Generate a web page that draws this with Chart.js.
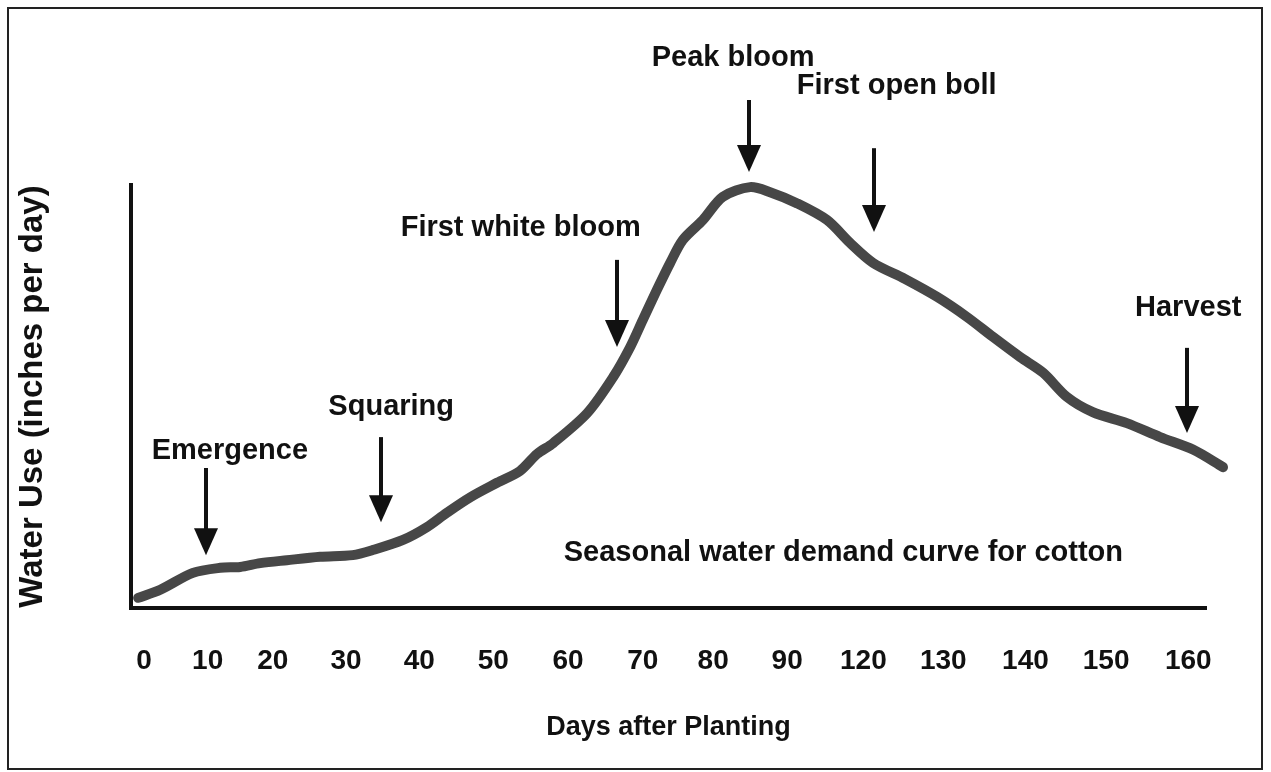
<!DOCTYPE html>
<html>
<head>
<meta charset="utf-8">
<script src="https://cdn.jsdelivr.net/npm/chart.js@4.4.1/dist/chart.umd.min.js"></script>
<style>
  html, body { margin: 0; padding: 0; background: #ffffff; }
  #wrap { position: relative; width: 1271px; height: 772px; }
  canvas { display: block; }
</style>
</head>
<body>
<div id="wrap"><canvas id="c" width="1271" height="772"></canvas></div>
<script>
// ---- Data ----
// x values are in axis units (tick "0" = 0, tick "10" ≈ 8.6 ... tick "160" ≈ 141.1)
const curveX = [-0.8, 2.2, 6.6, 10.3, 13.0, 15.7, 19.3, 23.8, 28.2, 30.9, 35.0, 38.2, 40.9, 44.1, 47.7,
  50.8, 53.1, 55.3, 59.9, 63.4, 65.7, 67.4, 69.3, 71.1, 72.8, 75.5, 78.2, 81.9, 84.6, 88.2, 92.3, 95.4,
  98.5, 102.8, 107.2, 111.2, 114.7, 118.4, 121.5, 124.7, 128.2, 132.8, 137.3, 141.8, 145.8];
// relative water use (axis has no numeric labels; 0 = x-axis, 100 = top of y-axis)
const curveY = [2.4, 4.3, 8.3, 9.5, 9.7, 10.6, 11.3, 12.1, 12.5, 13.7, 16.1, 19.1, 22.5, 26.2, 29.6,
  32.4, 36.4, 39.0, 46.1, 54.6, 61.7, 68.1, 75.2, 81.6, 87.0, 91.7, 97.2, 99.5, 98.3, 95.7, 91.7, 86.3,
  81.6, 77.8, 73.5, 68.8, 64.1, 59.3, 55.6, 49.9, 46.3, 43.7, 40.4, 37.4, 33.3];

const xTickLabels = ['0', '10', '20', '30', '40', '50', '60', '70', '80', '90', '120', '130', '140', '150', '160'];
const xTickPos = [0, 8.6, 17.4, 27.3, 37.2, 47.2, 57.3, 67.4, 76.9, 86.9, 97.2, 108.0, 119.1, 130.0, 141.1];

const stageNames = ['Emergence', 'Squaring', 'First white bloom', 'Peak bloom', 'First open boll', 'Harvest'];
const stageLabelX = [11.6, 33.4, 50.9, 79.6, 101.7, 141.1];
const stageLabelY = [37.1, 47.5, 89.8, 130.0, 123.4, 70.9];
const stageArrowX = [8.4, 32.0, 63.9, 81.8, 98.6, 140.9];
const stageArrowTop = [33.1, 40.4, 82.3, 120.1, 108.7, 61.5];
const stageArrowTip = [12.5, 20.3, 61.7, 103.1, 88.9, 41.4];

const captionText = 'Seasonal water demand curve for cotton';
const captionX = 94.5;
const captionY = 13.0;

const xTitle = 'Days after Planting';
const yTitle = 'Water Use (inches per day)';

// ---- Styling ----
const FONT = '"Liberation Sans", Arial, Helvetica, sans-serif';
const INK = '#111111';

const points = curveX.map((x, i) => ({ x: x, y: curveY[i] }));

const annotationPlugin = {
  id: 'stageAnnotations',
  beforeDraw(chart) {
    const ctx = chart.ctx;
    ctx.save();
    ctx.fillStyle = '#ffffff';
    ctx.fillRect(0, 0, chart.width, chart.height);
    ctx.restore();
  },
  afterDraw(chart) {
    const ctx = chart.ctx;
    const xs = chart.scales.x, ys = chart.scales.y;
    ctx.save();
    // outer frame
    ctx.strokeStyle = '#222222';
    ctx.lineWidth = 2;
    ctx.strokeRect(8, 8, 1254, 761);

    ctx.fillStyle = INK;
    ctx.strokeStyle = INK;
    ctx.textAlign = 'center';
    ctx.textBaseline = 'middle';
    ctx.font = 'bold 29px ' + FONT;
    stageNames.forEach((name, i) => {
      ctx.fillText(name, xs.getPixelForValue(stageLabelX[i]), ys.getPixelForValue(stageLabelY[i]));
      const ax = Math.round(xs.getPixelForValue(stageArrowX[i]));
      const top = ys.getPixelForValue(stageArrowTop[i]);
      const tip = ys.getPixelForValue(stageArrowTip[i]);
      const headH = 27, headW = 24;
      ctx.lineWidth = 4;
      ctx.beginPath();
      ctx.moveTo(ax, top);
      ctx.lineTo(ax, tip - headH + 2);
      ctx.stroke();
      ctx.beginPath();
      ctx.moveTo(ax - headW / 2, tip - headH);
      ctx.lineTo(ax + headW / 2, tip - headH);
      ctx.lineTo(ax, tip);
      ctx.closePath();
      ctx.fill();
    });
    ctx.fillText(captionText, xs.getPixelForValue(captionX), ys.getPixelForValue(captionY));
    ctx.restore();
  }
};

new Chart(document.getElementById('c'), {
  type: 'line',
  data: {
    datasets: [{
      data: points,
      borderColor: '#474747',
      backgroundColor: '#474747',
      borderWidth: 10,
      borderCapStyle: 'round',
      borderJoinStyle: 'round',
      pointRadius: 0,
      tension: 0.3,
      clip: false,
      fill: false
    }]
  },
  options: {
    responsive: false,
    animation: false,
    events: [],
    layout: { padding: { left: 0, top: 185, right: 65, bottom: 0 } },
    plugins: { legend: { display: false }, tooltip: { enabled: false } },
    scales: {
      x: {
        type: 'linear',
        min: -1.76,
        max: 143.5,
        afterBuildTicks: (scale) => { scale.ticks = xTickPos.map(v => ({ value: v })); },
        afterFit: (scale) => { scale.height = 164; },
        ticks: {
          autoSkip: false,
          maxRotation: 0,
          padding: 36,
          color: INK,
          font: { family: FONT, size: 28, weight: 'bold' },
          callback: (value, index) => xTickLabels[index]
        },
        grid: { display: false, drawTicks: false },
        border: { display: true, color: INK, width: 4 },
        title: {
          display: true,
          text: xTitle,
          color: INK,
          font: { family: FONT, size: 27, weight: 'bold' },
          padding: { top: 0, bottom: 28 }
        }
      },
      y: {
        type: 'linear',
        min: 0,
        max: 100,
        afterFit: (scale) => { scale.width = 131; },
        ticks: { display: false },
        grid: { display: false, drawTicks: false },
        border: { display: true, color: INK, width: 4 },
        title: {
          display: true,
          text: yTitle,
          color: INK,
          font: { family: FONT, size: 33, weight: 'bold' },
          padding: { top: 13, bottom: 0 }
        }
      }
    }
  },
  plugins: [annotationPlugin]
});
</script>
</body>
</html>
